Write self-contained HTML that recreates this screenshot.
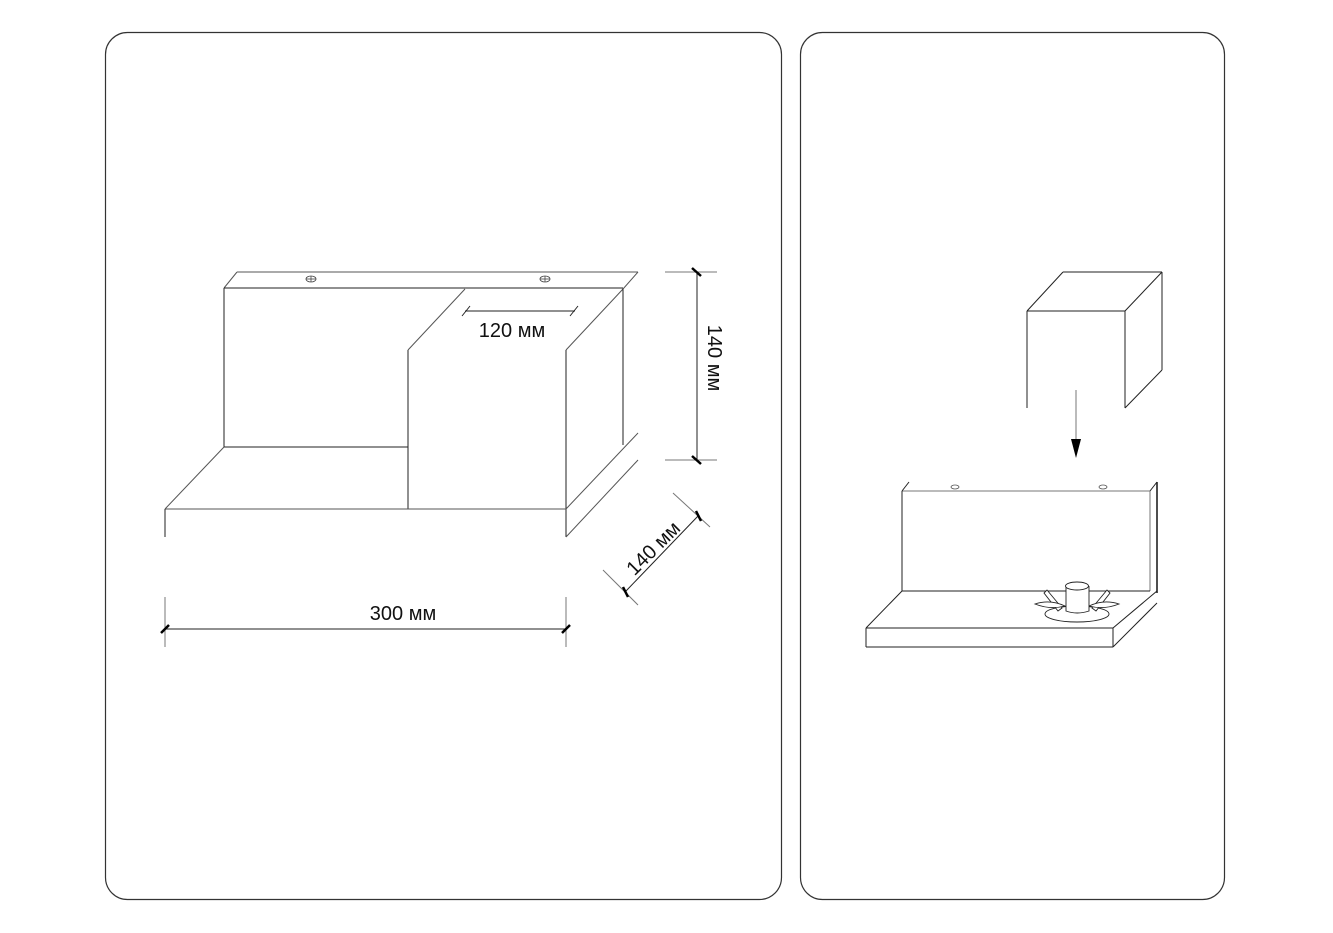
<!DOCTYPE html>
<html><head><meta charset="utf-8"><style>
html,body{margin:0;padding:0;background:#fff;}
svg{display:block;}
text{font-family:"Liberation Sans",sans-serif;fill:#111;}
</style></head><body>
<svg width="1333" height="933" viewBox="0 0 1333 933" xmlns="http://www.w3.org/2000/svg">
<g fill="none" stroke="#333" stroke-width="1.2">
<rect x="105.5" y="32.5" width="676" height="867" rx="22"/>
<rect x="800.5" y="32.5" width="424" height="867" rx="22"/>
</g>
<!-- left drawing -->
<g fill="none" stroke="#222" stroke-width="1">
<line x1="237" y1="272" x2="638" y2="272" stroke="#555"/>
<line x1="224" y1="288" x2="237" y2="272" stroke="#555"/>
<line x1="224" y1="288" x2="623" y2="288"/>
<line x1="224" y1="288" x2="224" y2="447"/>
<line x1="224" y1="447" x2="408" y2="447"/>
<line x1="408" y1="350" x2="408" y2="509"/>
<line x1="408" y1="350" x2="465" y2="289" stroke="#555"/>
<line x1="566" y1="350" x2="623" y2="289" stroke="#555"/>
<line x1="566" y1="350" x2="566" y2="537"/>
<line x1="623" y1="288" x2="623" y2="445"/>
<line x1="623" y1="289" x2="638" y2="272" stroke="#555"/>
<line x1="165" y1="509" x2="566" y2="509" stroke="#555"/>
<line x1="165" y1="509" x2="224" y2="447" stroke="#555"/>
<line x1="165" y1="509" x2="165" y2="537"/>
<line x1="566" y1="509" x2="638" y2="433" stroke="#555"/>
<line x1="566" y1="537" x2="638" y2="460" stroke="#555"/>
<!-- 120 dim -->
<line x1="465" y1="311" x2="575" y2="311"/>
<line x1="462" y1="316" x2="470" y2="306"/>
<line x1="570" y1="316" x2="578" y2="306"/>
<!-- 140 vertical -->
<line x1="665" y1="272" x2="717" y2="272" stroke="#777"/>
<line x1="665" y1="460" x2="717" y2="460" stroke="#777"/>
<line x1="697" y1="272" x2="697" y2="460"/>
<!-- 140 diag -->
<line x1="626" y1="591" x2="699" y2="515"/>
<line x1="603" y1="570" x2="638" y2="605" stroke="#777"/>
<line x1="673" y1="493" x2="710" y2="527" stroke="#777"/>
<!-- 300 -->
<line x1="165" y1="597" x2="165" y2="647" stroke="#777"/>
<line x1="566" y1="597" x2="566" y2="647" stroke="#777"/>
<line x1="165" y1="629" x2="566" y2="629"/>
</g>
<g stroke="#000" stroke-width="2.5">
<line x1="692" y1="268" x2="701" y2="276"/>
<line x1="692" y1="456" x2="701" y2="464"/>
<line x1="161" y1="633" x2="169" y2="625"/>
<line x1="562" y1="633" x2="570" y2="625"/>
<line x1="623" y1="587" x2="628" y2="597"/>
<line x1="696" y1="511" x2="701" y2="521"/>
</g>
<g fill="none" stroke="#444" stroke-width="0.8">
<ellipse cx="311" cy="279" rx="5" ry="3"/><line x1="306" y1="279" x2="316" y2="279"/><line x1="311" y1="276" x2="311" y2="282"/>
<ellipse cx="545" cy="279" rx="5" ry="3"/><line x1="540" y1="279" x2="550" y2="279"/><line x1="545" y1="276" x2="545" y2="282"/>
</g>
<text x="512" y="337" font-size="20" text-anchor="middle">120 мм</text>
<text x="403" y="620" font-size="20" text-anchor="middle">300 мм</text>
<text transform="translate(708,358) rotate(90)" font-size="20" text-anchor="middle">140 мм</text>
<text transform="translate(658,553) rotate(-45)" font-size="20" text-anchor="middle">140 мм</text>
<!-- right drawing -->
<g fill="none" stroke="#222" stroke-width="1">
<line x1="1027" y1="311" x2="1125" y2="311"/>
<line x1="1027" y1="311" x2="1027" y2="408"/>
<line x1="1125" y1="311" x2="1125" y2="408"/>
<line x1="1027" y1="311" x2="1063" y2="272"/>
<line x1="1063" y1="272" x2="1162" y2="272"/>
<line x1="1125" y1="311" x2="1162" y2="272"/>
<line x1="1162" y1="272" x2="1162" y2="370"/>
<line x1="1125" y1="408" x2="1162" y2="370"/>
<line x1="1076" y1="390" x2="1076" y2="440" stroke="#777"/>
<line x1="902" y1="491" x2="1150" y2="491" stroke="#777"/>
<line x1="902" y1="491" x2="902" y2="591"/>
<line x1="902" y1="491" x2="909" y2="482"/>
<line x1="1150" y1="491" x2="1150" y2="591" stroke="#777"/>
<line x1="1150" y1="491" x2="1157" y2="482"/>
<line x1="1157" y1="482" x2="1157" y2="593" stroke-width="1.6"/>
<line x1="902" y1="591" x2="1150" y2="591"/>
<line x1="866" y1="628" x2="1113" y2="628"/>
<line x1="866" y1="628" x2="902" y2="591"/>
<line x1="1113" y1="628" x2="1157" y2="591"/>
<line x1="866" y1="647" x2="1113" y2="647"/>
<line x1="866" y1="628" x2="866" y2="647"/>
<line x1="1113" y1="628" x2="1113" y2="647"/>
<line x1="1113" y1="647" x2="1157" y2="603"/>
</g>
<polygon points="1071,439 1081,439 1076,458" fill="#000"/>
<g fill="none" stroke="#555" stroke-width="0.8">
<ellipse cx="955" cy="487" rx="4" ry="2"/>
<ellipse cx="1103" cy="487" rx="4" ry="2"/>
</g>
<!-- mixer -->
<g fill="#fff" stroke="#222" stroke-width="0.9">
<ellipse cx="1077" cy="614" rx="32" ry="8" fill="none"/>
<path d="M1047,590 L1062,608 L1058,611 L1044,593 Z"/>
<path d="M1107,590 L1092,608 L1096,611 L1110,593 Z"/>
<path d="M1035,604 Q1050,599 1065,606 Q1050,610 1035,604 Z"/>
<path d="M1119,604 Q1104,599 1089,606 Q1104,610 1119,604 Z"/>
<path d="M1066,586 L1066,611 Q1077,615 1089,611 L1089,586"/>
<ellipse cx="1077" cy="586" rx="11.5" ry="4"/>
</g>
</svg>
</body></html>
